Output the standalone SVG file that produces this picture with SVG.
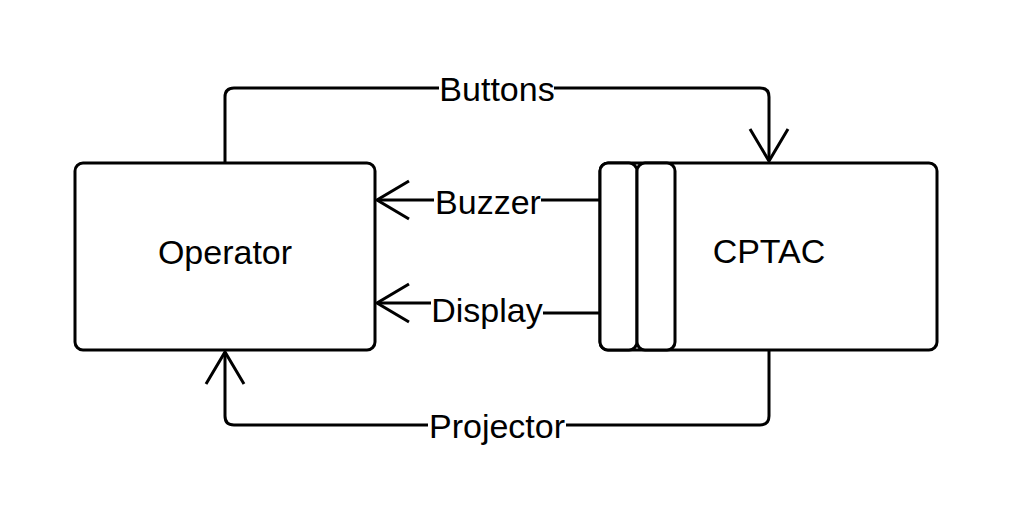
<svg xmlns="http://www.w3.org/2000/svg" width="1013" height="514" viewBox="0 0 1013 514">
<defs>
<style>
.box{fill:#fff;stroke:#000;stroke-width:3}
.ln{fill:none;stroke:#000;stroke-width:3;stroke-linejoin:round}
.ah{fill:none;stroke:#000;stroke-width:3}
.t{font-family:"Liberation Sans",Arial,sans-serif;font-size:34px;fill:#000;text-anchor:middle}
.bg{fill:#fff}
</style>
</defs>
<rect width="1013" height="514" fill="#fff"/>
<g id="connectors">
<path class="ln" d="M225,162 V97 Q225,88 234,88 H760 Q769,88 769,97 V161"/>
<path class="ah" d="M750,129 L769,161 L788,129"/>
<path class="ln" d="M600,200 H377"/>
<path class="ah" d="M409,181 L377,200 L409,219"/>
<path class="ln" d="M600,313 H540 V303 H377"/>
<path class="ah" d="M409,284 L377,303 L409,322"/>
<path class="ln" d="M769,350 V416 Q769,425 760,425 H234 Q225,425 225,416 V352"/>
<path class="ah" d="M206,384 L225,352 L244,384"/>
<rect class="bg" x="439" y="74" width="115" height="30"/>
<text class="t" x="497" y="101">Buttons</text>
<rect class="bg" x="434" y="186" width="107" height="30"/>
<text class="t" x="488" y="214">Buzzer</text>
<rect class="bg" x="431" y="294" width="112" height="36"/>
<text class="t" x="487" y="322">Display</text>
<rect class="bg" x="428" y="410" width="138" height="36"/>
<text class="t" x="497" y="438">Projector</text>
</g>
<g id="operator">
<rect class="box" x="75" y="163" width="300" height="187" rx="8"/>
<text class="t" x="225" y="264">Operator</text>
</g>
<g id="cptac">
<rect class="box" x="600" y="163" width="337" height="187" rx="8"/>
<rect class="box" x="600" y="163" width="37" height="187" rx="8"/>
<rect class="box" x="637" y="163" width="38" height="187" rx="8"/>
<text class="t" x="769" y="263">CPTAC</text>
</g>
</svg>
